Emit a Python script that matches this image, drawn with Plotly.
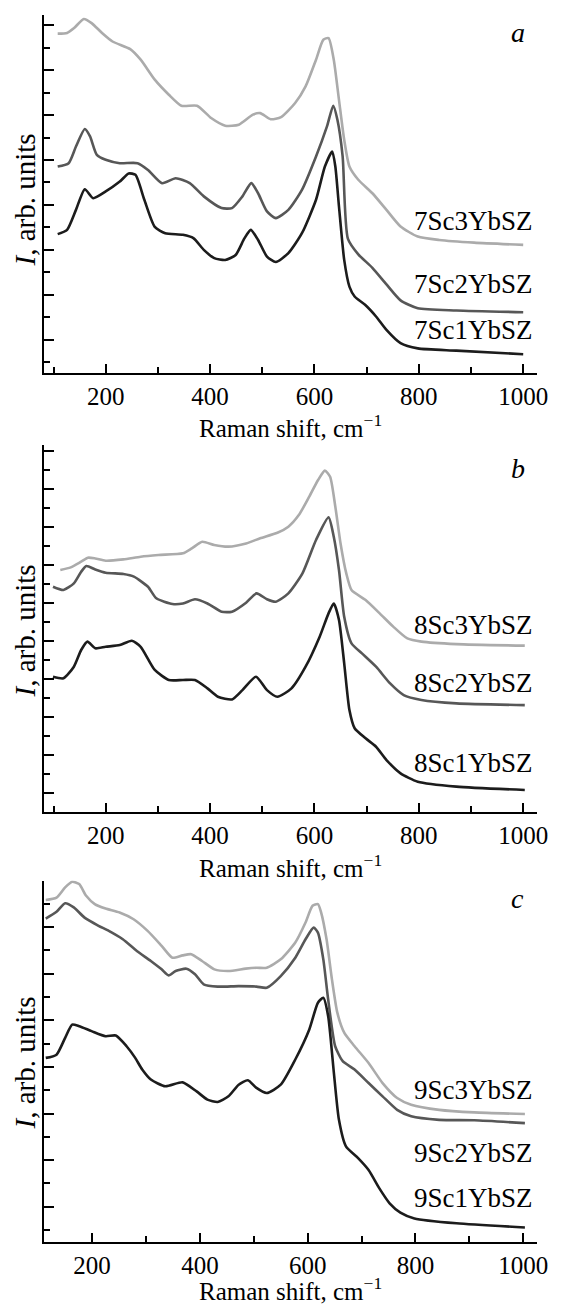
import plotly.graph_objects as go

# ---------------- Panel a ----------------
a3_x = [108,126,139.5,158,173,193,213,247,267,294,321,345,375,402,429,455,482,496,516,536,563,583,603,617,627,637,647,657,667,684,711,738,765,798,839,906,1000]
a3_y = [15.13,15.16,15.38,15.78,15.6,15.16,14.78,14.44,13.97,13.08,12.41,11.92,11.92,11.37,11.03,11.07,11.52,11.59,11.32,11.41,12.04,12.78,13.97,14.86,14.93,13.97,12.18,10.4,9.21,8.62,8.02,7.28,6.54,6.09,5.94,5.82,5.72]
a2_x = [108,129,143,160,170,183,200,227,261,281,308,334,361,388,422,442,462,479,492,509,526,550,576,603,624,636,644,654,664,684,711,738,765,798,872,1000]
a2_y = [9.21,9.36,10.1,10.88,10.55,9.73,9.51,9.36,9.36,9.06,8.47,8.69,8.47,7.88,7.36,7.36,7.88,8.47,8.02,7.21,6.91,7.28,8.17,9.66,11.0,11.92,11.29,9.66,6.0,5.3,4.7,3.96,3.25,2.9,2.8,2.72]
a1_x = [108,126,143,160,176,200,227,244,257,274,294,314,348,368,388,408,429,449,466,478,492,509,526,550,576,603,620,634,640,647,657,667,677,697,718,738,765,798,872,1000]
a1_y = [6.2,6.39,7.28,8.2,7.8,8.1,8.54,8.9,8.84,7.73,6.52,6.24,6.17,6.02,5.5,5.13,5.05,5.27,6.02,6.39,5.94,5.2,4.96,5.35,6.24,7.73,9.21,9.88,9.21,7.43,5.05,3.86,3.42,3.05,2.53,1.93,1.34,1.11,1.01,0.85]

# ---------------- Panel b ----------------
b3_x = [113,133,153,166,180,200,234,267,301,348,365,385,408,435,469,496,529,550,570,590,607,620,630,640,650,661,671,698,725,751,778,805,872,1003]
b3_y = [12.72,12.86,13.16,13.37,13.33,13.21,13.28,13.42,13.51,13.6,13.86,14.21,14.04,13.95,14.12,14.39,14.68,15.0,15.61,16.58,17.46,17.95,17.63,16.05,14.12,12.54,11.67,11.14,10.44,9.74,9.12,8.95,8.82,8.74]
b2_x = [99,119,139,153,163,180,200,234,254,281,297,328,348,371,395,422,442,469,489,509,526,550,577,603,627,637,647,657,671,691,718,745,771,805,872,1003]
b2_y = [11.84,11.67,12.02,12.63,12.93,12.75,12.58,12.51,12.37,11.84,11.23,10.93,10.96,11.18,10.96,10.53,10.53,11.0,11.49,11.18,11.05,11.49,12.54,14.3,15.49,14.47,12.72,10.26,8.86,8.33,7.63,6.75,6.14,5.88,5.7,5.61]
b1_x = [99,119,139,153,165,180,200,227,250,267,294,321,348,371,395,415,442,462,488,509,529,556,583,610,627,637,647,657,667,677,698,718,738,765,798,872,1003]
b1_y = [7.1,7.02,7.63,8.51,8.95,8.6,8.68,8.77,9.0,8.68,7.46,6.93,6.93,6.93,6.49,6.05,5.91,6.4,7.1,6.4,6.05,6.49,7.63,9.21,10.44,10.96,10.09,7.81,5.35,4.39,3.86,3.42,2.72,2.02,1.58,1.32,1.14]

# ---------------- Panel c ----------------
c3_x = [114,134,150,163,176,189,205,225,251,277,303,329,349,368,384,404,427,453,485,505,524,550,577,596,609,619,625,635,645,655,668,687,713,739,766,792,844,909,1003]
c3_y = [14.67,14.77,15.21,15.45,15.35,14.85,14.49,14.3,14.13,13.84,13.34,12.7,12.19,12.29,12.34,12.05,11.69,11.62,11.72,11.76,11.76,12.12,12.84,13.7,14.42,14.49,14.13,12.98,11.26,9.83,8.96,8.39,7.67,6.81,6.17,5.88,5.66,5.55,5.48]
c2_x = [114,134,150,166,186,212,231,257,283,309,329,342,355,375,391,407,433,472,505,524,550,577,596,611,619,629,638,651,665,687,713,739,766,792,844,909,1003]
c2_y = [13.87,14.16,14.53,14.35,13.91,13.56,13.34,12.98,12.48,12.05,11.69,11.43,11.62,11.72,11.48,11.05,10.95,10.97,10.95,10.9,11.4,12.19,12.98,13.48,13.27,12.12,10.4,8.39,7.75,7.39,6.81,6.24,5.66,5.38,5.23,5.21,5.09]
c1_x = [114,134,150,163,176,199,225,244,264,280,293,309,336,368,394,414,433,453,472,489,505,524,550,577,603,619,629,638,648,658,671,694,713,733,752,772,798,876,1003]
c1_y = [7.89,8.03,8.75,9.32,9.25,9.04,8.82,8.85,8.39,7.89,7.39,6.96,6.67,6.84,6.45,6.1,6.0,6.24,6.74,6.93,6.6,6.38,6.74,7.82,9.11,10.26,10.47,9.68,7.39,5.23,4.09,3.58,3.08,2.29,1.65,1.25,1.0,0.79,0.61]

labels_a = ["7Sc3YbSZ", "7Sc2YbSZ", "7Sc1YbSZ"]
labels_b = ["8Sc3YbSZ", "8Sc2YbSZ", "8Sc1YbSZ"]
labels_c = ["9Sc3YbSZ", "9Sc2YbSZ", "9Sc1YbSZ"]
panel_letters = ["a", "b", "c"]
x_ticks = [200, 400, 600, 800, 1000]

W, H = 563, 1307
colors = ["#ababab", "#575757", "#1c1c1c"]
FONT = "Liberation Serif, Times New Roman, serif"

fig = go.Figure()
panels = [
    ([(a3_x, a3_y), (a2_x, a2_y), (a1_x, a1_y)], "x", "y"),
    ([(b3_x, b3_y), (b2_x, b2_y), (b1_x, b1_y)], "x2", "y2"),
    ([(c3_x, c3_y), (c2_x, c2_y), (c1_x, c1_y)], "x3", "y3"),
]
for series, xa, ya in panels:
    for (xs, ys), col in zip(series, colors):
        fig.add_trace(go.Scatter(x=xs, y=ys, mode="lines", xaxis=xa, yaxis=ya,
                                 line=dict(color=col, width=2.6, shape="spline", smoothing=0.6),
                                 showlegend=False, hoverinfo="skip"))

def py(p):
    return 1 - p / H

xdom = [45 / W, 548 / W]
# (top px, bottom px, y range, tick0 major, x range)
geo = [
    (15, 373.3, [0, 15.96], 1.5, [82, 1027]),
    (445, 811.7, [0, 19.3], 1.0, [82, 1027]),
    (880.6, 1241.7, [0, 15.5], 1.5, [111, 1026]),
]
for i, (top, bot, yr, t0, xr) in enumerate(geo):
    sfx = "" if i == 0 else str(i + 1)
    fig.layout["xaxis" + sfx] = dict(
        domain=xdom, range=xr, anchor="y" + sfx,
        showline=True, linecolor="black", linewidth=2,
        ticks="inside", ticklen=9, tickwidth=1.8, tickcolor="black",
        tickmode="array", tickvals=x_ticks, ticktext=[str(t) for t in x_ticks],
        minor=dict(ticks="inside", ticklen=6, tickwidth=1.8, tickcolor="black",
                   tickmode="array", tickvals=[100, 300, 500, 700, 900]),
        showgrid=False, zeroline=False,
        tickfont=dict(family=FONT, size=25, color="black"),
    )
    fig.layout["yaxis" + sfx] = dict(
        domain=[py(bot), py(top)], range=yr, anchor="x" + sfx,
        showline=True, linecolor="black", linewidth=2,
        ticks="inside", ticklen=10, tickwidth=1.8, tickcolor="black",
        tick0=t0, dtick=2,
        minor=dict(ticks="inside", ticklen=6, tickwidth=1.8, tickcolor="black",
                   tick0=t0 - 1, dtick=2),
        showticklabels=False, showgrid=False, zeroline=False,
    )

annotations = []
label_y = [[221, 284, 330], [625, 683, 763], [1090, 1153, 1198]]
letter_y = [32, 468, 898]
xtitle_y = [426, 866, None]
ytitle_y = [200, 631, 1063]
for i in range(3):
    labs = [labels_a, labels_b, labels_c][i]
    for lab, ly in zip(labs, label_y[i]):
        annotations.append(dict(x=546 / W, y=py(ly), xref="paper", yref="paper",
                                text=lab, showarrow=False, xanchor="right", yanchor="middle",
                                font=dict(family=FONT, size=27, color="black")))
    annotations.append(dict(x=528 / W, y=py(letter_y[i]), xref="paper", yref="paper",
                            text="<i>" + panel_letters[i] + "</i>", showarrow=False,
                            xanchor="center", yanchor="middle",
                            font=dict(family=FONT, size=28, color="black")))
    if xtitle_y[i] is not None:
        annotations.append(dict(x=296 / W, y=py(xtitle_y[i]), xref="paper", yref="paper",
                                text="Raman shift, cm<sup>−1</sup>", showarrow=False,
                                xanchor="center", yanchor="middle",
                                font=dict(family=FONT, size=25, color="black")))
    else:
        annotations.append(dict(x=296 / W, y=py(1307), xref="paper", yref="paper",
                                text="Raman shift, cm<sup>−1</sup>", showarrow=False,
                                xanchor="center", yanchor="bottom",
                                font=dict(family=FONT, size=25, color="black")))
    annotations.append(dict(x=25 / W, y=py(ytitle_y[i]), xref="paper", yref="paper",
                            text="<i>I</i>, arb. units", showarrow=False, textangle=-90,
                            xanchor="center", yanchor="middle",
                            font=dict(family=FONT, size=29, color="black")))

fig.update_layout(width=W, height=H, margin=dict(l=0, r=0, t=0, b=0),
                  paper_bgcolor="white", plot_bgcolor="white",
                  annotations=annotations)

fig.write_html("out.html")
